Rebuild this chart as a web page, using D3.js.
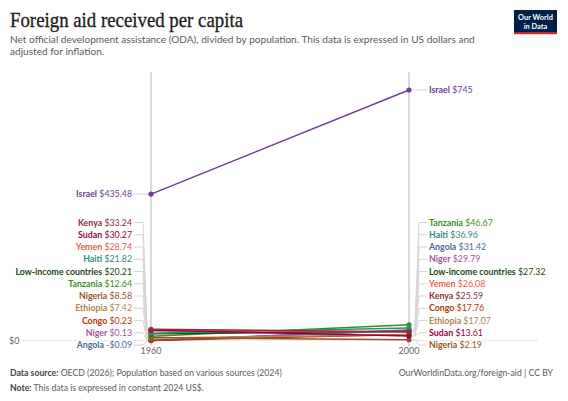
<!DOCTYPE html>
<html><head><meta charset="utf-8">
<script src="https://cdn.jsdelivr.net/npm/d3@7"></script>
<style>
html,body{margin:0;padding:0;background:#fff;}
svg{display:block;font-family:Lato,"Noto Sans",sans-serif;}
</style></head>
<body><svg id="c" width="568" height="401"></svg>
<script>
const years = [1960, 2000];
const entities = ["Israel","Kenya","Sudan","Yemen","Haiti","Low-income countries","Tanzania","Nigeria","Ethiopia","Congo","Niger","Angola"];
const values1960 = [435.48, 33.24, 30.27, 28.74, 21.82, 20.21, 12.64, 8.58, 7.42, 0.23, 0.13, -0.09];
const values2000 = [745, 25.59, 13.61, 26.08, 36.96, 27.32, 46.67, 2.19, 17.07, 17.76, 29.79, 31.42];
const colors = ["#6D3E91","#883039","#970046","#E0604F","#2E8B80","#18470F","#3B8E1D","#9A5129","#B08451","#B13507","#A2559C","#4C6A9C"];
const valueLabels1960 = ["$435.48","$33.24","$30.27","$28.74","$21.82","$20.21","$12.64","$8.58","$7.42","$0.23","$0.13","-$0.09"];
const valueLabels2000 = ["$745","$25.59","$13.61","$26.08","$36.96","$27.32","$46.67","$2.19","$17.07","$17.76","$29.79","$31.42"];
const yTicks = [0];

const svg = d3.select("#c");
const x = d3.scalePoint().domain(years).range([151, 409]);
const y = d3.scaleLinear().domain([0, 745]).range([340.5, 90]);

// Header
svg.append("text").attr("x", 10).attr("y", 26.7).attr("font-family", "'Liberation Serif','DejaVu Serif',serif")
  .attr("font-size", 21.5).attr("fill", "#1d1d1d").attr("stroke","#1d1d1d").attr("stroke-width",0.35)
  .attr("textLength", 233).attr("lengthAdjust","spacingAndGlyphs")
  .text("Foreign aid received per capita");
const sub = ["Net official development assistance (ODA), divided by population. This data is expressed in US dollars and", "adjusted for inflation."];
sub.forEach((s,i)=>svg.append("text").attr("x",10).attr("y",42.7+i*12.6).attr("font-size",10.1).attr("fill","#5b5b5b").text(s));

// Logo
const lg = svg.append("g");
lg.append("rect").attr("x",514).attr("y",10).attr("width",43).attr("height",24).attr("fill","#002147");
lg.append("rect").attr("x",514).attr("y",32).attr("width",43).attr("height",2.2).attr("fill","#ce261e");
lg.append("text").attr("x",535.5).attr("y",20).attr("text-anchor","middle").attr("font-size",7.4).attr("font-weight",700).attr("fill","#fff").text("Our World");
lg.append("text").attr("x",535.5).attr("y",28.5).attr("text-anchor","middle").attr("font-size",7.4).attr("font-weight",700).attr("fill","#fff").text("in Data");

// zero gridline
yTicks.forEach(t=>{
  svg.append("line").attr("x1",23).attr("x2",537).attr("y1",y(t)).attr("y2",y(t))
    .attr("stroke","#c8c8c8").attr("stroke-width",0.8).attr("stroke-dasharray","1.5,1.5");
  svg.append("text").attr("x",9).attr("y",y(t)+3.2).attr("font-size",9).attr("fill","#666").text("$" + t);
});

// vertical axes
years.forEach(yr=>{
  svg.append("line").attr("x1",x(yr)).attr("x2",x(yr)).attr("y1",72).attr("y2",346)
    .attr("stroke","#b5b5b5").attr("stroke-width",1);
  svg.append("text").attr("x",x(yr)).attr("y",354).attr("text-anchor","middle").attr("font-size",9).attr("fill","#666").text(yr);
});

const data = entities.map((e,i)=>({name:e, v:[values1960[i], values2000[i]], lab:[valueLabels1960[i], valueLabels2000[i]], color:colors[i]}));

// label layout
function layout(targets, spacing, lo, hi){
  const idx = targets.map((t,i)=>i).sort((a,b)=>targets[a]-targets[b]);
  const pos = targets.slice();
  for(let it=0; it<500; it++){
    for(let k=0;k<idx.length-1;k++){
      const a=idx[k], b=idx[k+1];
      const gap = pos[b]-pos[a];
      if(gap < spacing){ const d=(spacing-gap)/2; pos[a]-=d; pos[b]+=d; }
    }
    for(let k=0;k<idx.length;k++){ const i=idx[k]; pos[i]=Math.max(lo, Math.min(hi, pos[i])); }
  }
  return pos;
}
const spacing = 12.25;
const leftPos = layout(data.map(d=>y(d.v[0])), spacing, 75, 345);
const rightPos = layout(data.map(d=>y(d.v[1])), spacing, 75, 345);

// connectors
const gConn = svg.append("g").attr("fill","none").attr("stroke","#d6d6d6").attr("stroke-width",1);
data.forEach((d,i)=>{
  const py0 = y(d.v[0]), py1 = y(d.v[1]);
  gConn.append("path").attr("d", `M134,${leftPos[i]} H143 L147,${py0} H149`);
  gConn.append("path").attr("d", `M413,${py1} H415 L419,${rightPos[i]} H427`);
});

// lines
const line = d3.line().x((v,j)=>x(years[j])).y(v=>y(v));
const order = data.slice().reverse();
svg.append("g").selectAll("path").data(order).join("path")
  .attr("d", d=>line(d.v)).attr("fill","none").attr("stroke", d=>d.color).attr("stroke-width",1.5);
svg.append("g").selectAll("g").data(order).join("g").each(function(d){
  d3.select(this).selectAll("circle").data(d.v).join("circle")
    .attr("cx",(v,j)=>x(years[j])).attr("cy",v=>y(v)).attr("r",2.6).attr("fill",d.color);
});

// labels
const gl = svg.append("g").attr("font-size",8.8);
data.forEach((d,i)=>{
  const tl = gl.append("text").attr("x",132).attr("y",leftPos[i]+3.2).attr("text-anchor","end").attr("fill",d.color)
    .attr("stroke","#fff").attr("stroke-width",3).attr("paint-order","stroke");
  tl.append("tspan").attr("font-weight",700).text(d.name);
  tl.append("tspan").text(" " + d.lab[0]);
  const tr = gl.append("text").attr("x",429).attr("y",rightPos[i]+3.2).attr("fill",d.color)
    .attr("stroke","#fff").attr("stroke-width",3).attr("paint-order","stroke");
  tr.append("tspan").attr("font-weight",700).text(d.name);
  tr.append("tspan").text(" " + d.lab[1]);
});

// footer
const f1 = svg.append("text").attr("x",10).attr("y",376).attr("font-size",8.7).attr("fill","#5b5b5b");
f1.append("tspan").attr("font-weight",700).attr("fill","#444").text("Data source:");
f1.append("tspan").text(" OECD (2026); Population based on various sources (2024)");
const f2 = svg.append("text").attr("x",10).attr("y",391).attr("font-size",8.7).attr("fill","#5b5b5b");
f2.append("tspan").attr("font-weight",700).attr("fill","#444").text("Note:");
f2.append("tspan").text(" This data is expressed in constant 2024 US$.");
svg.append("text").attr("x",553).attr("y",376).attr("text-anchor","end").attr("font-size",8.7).attr("fill","#5b5b5b")
  .text("OurWorldinData.org/foreign-aid | CC BY");
</script></body></html>
